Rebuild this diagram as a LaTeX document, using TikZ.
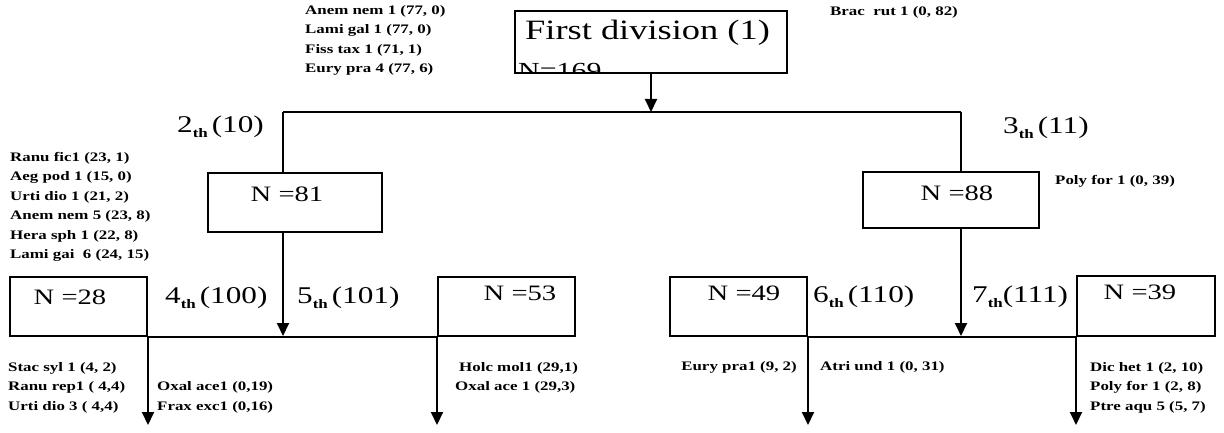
\documentclass[tikz,border=0pt]{standalone}
\usepackage{fontspec}
\setmainfont{Liberation Serif}[FakeStretch=1.3]
\usetikzlibrary{arrows.meta}
\newcommand{\ordn}[2]{#1\raisebox{-0.22em}{\fontsize{13}{13}\selectfont\bfseries th}#2}
\begin{document}
\begin{tikzpicture}[x=1pt,y=-1pt,
  box/.style={draw, line width=2pt, inner sep=0pt},
  conn/.style={line width=2pt},
  arr/.style={conn, -{Triangle[length=13pt,width=12pt]}},
  lbl/.style={font=\fontsize{13}{19.5}\selectfont\bfseries, align=left, inner sep=0pt},
  big/.style={font=\fontsize{22}{24}\selectfont, inner sep=0pt},
  ord/.style={font=\fontsize{24}{26}\selectfont, inner sep=0pt, anchor=west}]
\useasboundingbox (0,0) rectangle (1224,433);
% boxes
\node[box, minimum width=272pt, minimum height=62pt] (top) at (651,42) {};
\node[box, minimum width=174pt, minimum height=59pt] (b81) at (295,202.5) {};
\node[box, minimum width=176pt, minimum height=56pt] (b88) at (951,200) {};
\node[box, minimum width=137pt, minimum height=59pt] (b28) at (78.5,306.5) {};
\node[box, minimum width=137pt, minimum height=59pt] (b53) at (506.5,306.5) {};
\node[box, minimum width=137pt, minimum height=59pt] (b49) at (738.5,306.5) {};
\node[box, minimum width=138pt, minimum height=60pt] (b39) at (1146,306) {};
% box texts
\node[anchor=west, inner sep=0pt, font=\fontsize{28}{30}\selectfont] (t1) at (525,33) {First division (1)};
\begin{scope}
\clip (top.north west) rectangle (top.south east);
\node[anchor=base west, inner sep=0pt, font=\fontsize{23}{23}\selectfont] (n169) at (518,78.5) {N=169};
\end{scope}
\node[big] (n81) at (287,194) {N =81};
\node[big] (n88) at (957,193) {N =88};
\node[big] (n28) at (70,297) {N =28};
\node[big] (n53) at (520,293) {N =53};
\node[big] (n49) at (744,293) {N =49};
\node[big] (n39) at (1140,292) {N =39};
% connector coordinates
\coordinate (tL) at (283,112);
\coordinate (tR) at (961,112);
\coordinate (mL) at (283,336);
\coordinate (mR) at (961,336);
\coordinate (e1) at (b28.south east |- 0,425);
\coordinate (e2) at (b53.south west |- 0,425);
\coordinate (e3) at (b49.south east |- 0,425);
\coordinate (e4) at (b39.south west |- 0,425);
% connectors
\draw[arr] (top.south) -- (top.south |- tL);
\draw[conn] (tL) -- (tR);
\draw[conn] (tL) -- (tL |- b81.north);
\draw[conn] (tR) -- (tR |- b88.north);
\draw[arr] (tL |- b81.south) -- (mL);
\draw[arr] (tR |- b88.south) -- (mR);
\draw[conn] (b28.south east) -- (b53.south west);
\draw[conn] (b49.south east) -- (b39.south west);
\draw[arr] (b28.south east) -- (e1);
\draw[arr] (b53.south west) -- (e2);
\draw[arr] (b49.south east) -- (e3);
\draw[arr] (b39.south west) -- (e4);
% ordinal labels
\node[ord] (o2) at (177,127) {\ordn{2}{\,(10)}};
\node[ord] (o3) at (1003,128) {\ordn{3}{\,(11)}};
\node[ord] (o4) at (165,298) {\ordn{4}{\,(100)}};
\node[ord] (o5) at (297,298) {\ordn{5}{\,(101)}};
\node[ord] (o6) at (813,297) {\ordn{6}{\,(110)}};
\node[ord] (o7) at (972,297) {\ordn{7}{(111)}};
% species labels
\node[lbl, anchor=north west] (s1) at (305,5) {Anem nem 1 (77, 0)\\Lami gal 1 (77, 0)\\Fiss tax 1 (71, 1)\\Eury pra 4 (77, 6)};
\node[lbl, anchor=west] (s2) at (830,12) {Brac\ \ rut 1 (0, 82)};
\node[lbl, anchor=north west] (s3) at (10,152) {Ranu fic1 (23, 1)\\Aeg pod 1 (15, 0)\\Urti dio 1 (21, 2)\\Anem nem 5 (23, 8)\\Hera sph 1 (22, 8)\\Lami gai\ \ 6 (24, 15)};
\node[lbl, anchor=west] (s4) at (1055,181) {Poly for 1 (0, 39)};
\node[lbl, anchor=north west] (s5) at (8,362) {Stac syl 1 (4, 2)\\Ranu rep1 (\ 4,4)\\Urti dio 3 (\ 4,4)};
\node[lbl, anchor=north west] (s6) at (157,381.5) {Oxal ace1 (0,19)\\Frax exc1 (0,16)};
\node[lbl, anchor=north west] (s7) at (455,362) {\hspace*{4pt}Holc mol1 (29,1)\\Oxal ace 1 (29,3)};
\node[lbl, anchor=east] (s8) at (797,367) {Eury pra1 (9, 2)};
\node[lbl, anchor=west] (s9) at (820,367) {Atri und 1 (0, 31)};
\node[lbl, anchor=north west] (s10) at (1090,362) {Dic het 1 (2, 10)\\Poly for 1 (2, 8)\\Ptre aqu 5 (5, 7)};
\end{tikzpicture}
\end{document}
